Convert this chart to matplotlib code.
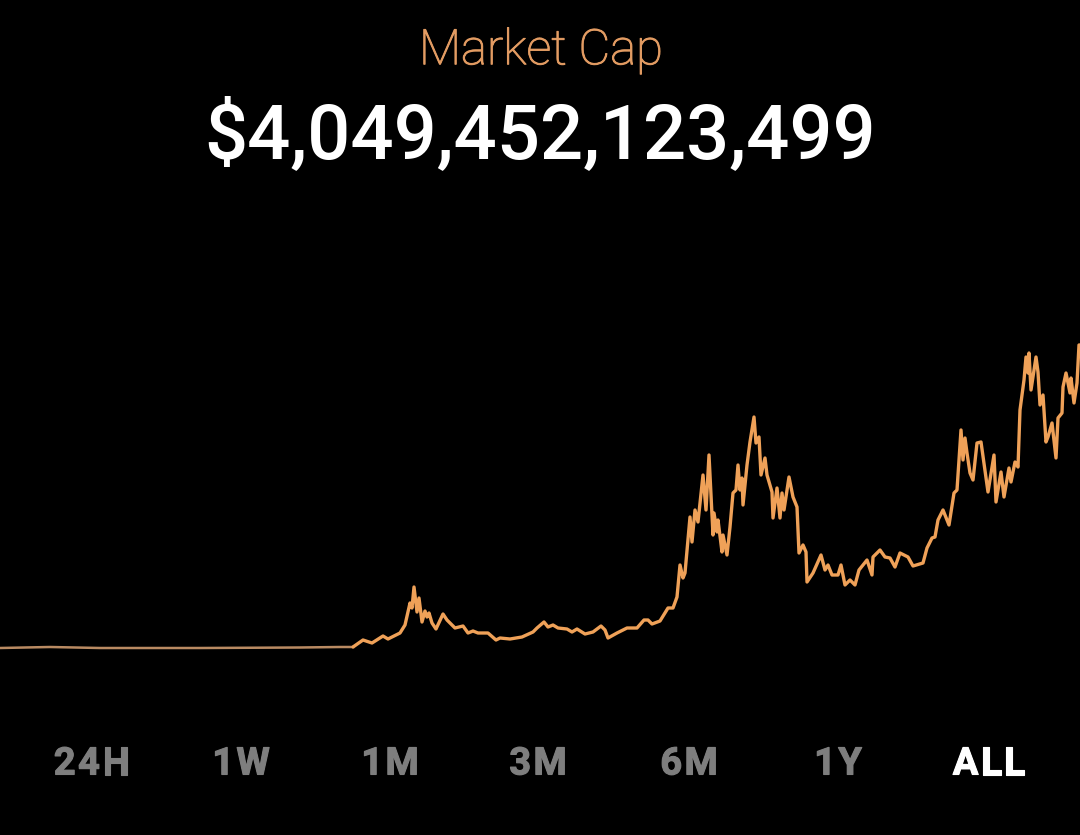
import numpy as np
import matplotlib
matplotlib.use("Agg")
import matplotlib.pyplot as plt
import matplotlib.patheffects as pe

# time position along the history, and market cap height above the early baseline
period = [0,50,100,200,300,340,353,363,372,383,388,400,405,410,412,414,417,419,422,425,427,429,432,436,443,447,455,463,468,473,478,488,496,500,510,522,533,537,544,548,553,558,567,572,577,585,593,601,605,608,617,627,637,644,648,652,660,668,673,
          677,680,683,685,690,692,695,698,703,706,709,713,714,717,718,722,723,727,730,733,736,738,740,742,743,747,750,754,756,759,761,765,767,772,773,777,780,782,784,789,793,797,799,803,806,807,813,821,825,828,832,838,841,845,850,855,859,867,872,873,
          880,885,890,895,900,908,913,923,927,932,935,938,943,949,954,957,961,963,965,967,970,973,977,981,988,994,996,1001,1004,1009,1011,1015,1018,1020,1024,1026,1028,1029,1031,1036,1038,1040,1043,1046,1048,1052,1056,1058,1062,1063,1066,1070,1071,1074,1077,1079,1080]
market_cap = [0,1,0,0,0.5,1,1,8,5,12,9,15,23,45,40,61,36,50,26,37,31,35,25,19,34,28,20,22,15,17,15,15,8,10,9,11,16,20,26,21,23,20,19,16,19,14,16,22,18,10,15,20,20,28,28,24,27,40,40,
              51,83,70,75,131,106,138,126,173,138,193,113,135,116,128,96,113,93,121,155,158,183,158,170,143,183,206,231,205,211,173,190,173,156,130,160,130,155,138,171,151,141,95,103,96,66,75,93,78,83,73,73,83,63,68,63,78,88,73,91,
              98,91,90,81,95,91,82,85,100,110,111,128,138,123,155,158,218,188,210,195,175,168,205,206,156,193,146,176,151,180,166,186,181,238,268,291,275,295,258,291,276,243,253,206,211,225,190,230,235,261,275,255,270,245,265,303,303]
tabs = ["24H", "1W", "1M", "3M", "6M", "1Y", "ALL"]
active_tab = "ALL"
label = "Market Cap"
headline = "$4,049,452,123,499"

BG = "#000000"
ORANGE = "#EFA158"
MID = "#D99A62"
EARLY = "#B98A62"
GREY = "#7E7E7E"

fig = plt.figure(figsize=(10.8, 8.35), dpi=100, facecolor=BG)
ax = fig.add_axes([0, 0, 1, 1], facecolor=BG)
ax.set_xlim(0, 1080)
ax.set_ylim(-187, 648)
ax.axis("off")

x = np.array(period, float)
y = np.array(market_cap, float)
split = period.index(353)
ax.plot(x[:split + 1], y[:split + 1], color=EARLY, lw=1.8, solid_joinstyle="round")
ax.plot(x[split:], y[split:], color=ORANGE, lw=2.4, solid_joinstyle="round", solid_capstyle="round")

lab = fig.text(541/1080, 1 - 51/835, label, color="#E39C63", fontsize=35.3, family="Roboto",
               weight="light", ha="center", va="center")
lab.set_path_effects([pe.withStroke(linewidth=0.7, foreground="#E39C63")])
fig.text(540/1080, 1 - 137/835, headline, color="#FFFFFF", fontsize=54.7, family="Roboto",
         weight="medium", ha="center", va="center")

# tab labels are letter-spaced: lay each glyph out by its measured width
renderer = fig.canvas.get_renderer()
tab_x = [91.5, 241, 390, 538, 689, 838, 988.5]
gap = 2.4
for name, tx in zip(tabs, tab_x):
    color = "#FFFFFF" if name == active_tab else GREY
    glyphs = [fig.text(0, 1 - 764/835, ch, color=color, fontsize=27.4, family="Roboto",
                       weight="bold", ha="left", va="center",
                       path_effects=[pe.withStroke(linewidth=0.8, foreground=color)]) for ch in name]
    widths = [g.get_window_extent(renderer).width for g in glyphs]
    pos = tx - (sum(widths) + gap * (len(name) - 1)) / 2
    for g, w in zip(glyphs, widths):
        g.set_x(pos / 1080)
        pos += w + gap

fig.savefig("out.png", dpi=100, facecolor=BG)
